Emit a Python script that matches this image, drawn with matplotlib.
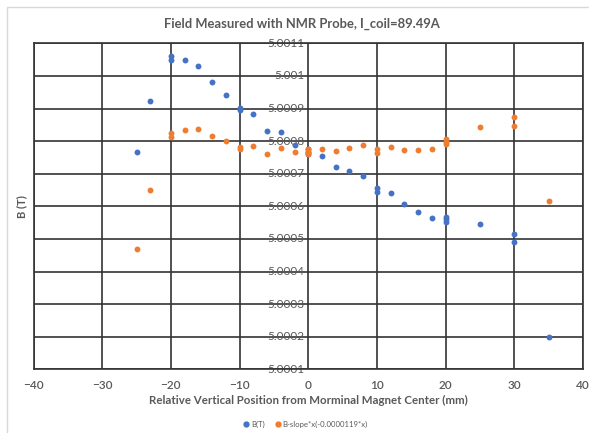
import matplotlib
matplotlib.use("Agg")
import matplotlib.pyplot as plt
from matplotlib.patches import Rectangle
from matplotlib.lines import Line2D
from matplotlib import transforms

# position (mm) and measured field B (T)
pos_b = [-25, -23, -20, -20, -18, -16, -14, -12, -10, -10, -8, -6, -4, -2,
         0, 0, 0, 2, 4, 6, 8, 10, 10, 12, 14, 16, 18, 20, 20, 20, 25, 30, 30, 35]
b_meas = [5.000768, 5.000924, 5.001061, 5.001049, 5.001049, 5.001029, 5.000982,
          5.000942, 5.000902, 5.000896, 5.000882, 5.000832, 5.000827, 5.000788,
          5.000775, 5.000768, 5.000760, 5.000754, 5.000721, 5.000708, 5.000693,
          5.000657, 5.000645, 5.000640, 5.000607, 5.000583, 5.000563, 5.000568,
          5.000561, 5.000553, 5.000546, 5.000515, 5.000490, 5.000199]

# B - slope*x
pos_c = [-25, -23, -20, -20, -18, -16, -14, -12, -10, -10, -8, -6, -4, -2,
         0, 0, 0, 2, 4, 6, 8, 10, 10, 12, 14, 16, 18, 20, 20, 20, 25, 30, 30, 35]
b_corr = [5.000469, 5.000649, 5.000824, 5.000812, 5.000834, 5.000838, 5.000816,
          5.000799, 5.000783, 5.000777, 5.000786, 5.000760, 5.000778, 5.000766,
          5.000775, 5.000768, 5.000760, 5.000777, 5.000770, 5.000780, 5.000789,
          5.000777, 5.000763, 5.000782, 5.000773, 5.000773, 5.000777, 5.000805,
          5.000798, 5.000791, 5.000843, 5.000873, 5.000846, 5.000616]

x_ticks = [-40, -30, -20, -10, 0, 10, 20, 30, 40]
y_ticks = [5.0001, 5.0002, 5.0003, 5.0004, 5.0005, 5.0006, 5.0007, 5.0008,
           5.0009, 5.001, 5.0011]
y_labels = ["5.0001", "5.0002", "5.0003", "5.0004", "5.0005", "5.0006",
            "5.0007", "5.0008", "5.0009", "5.001", "5.0011"]

blue = "#4472C4"
orange = "#ED7D31"
txt = "#595959"
grid_c = "#333333"

plt.rcParams['font.family'] = ['Lato', 'DejaVu Sans']

fig = plt.figure(figsize=(5.89, 4.33), dpi=100)
# light chart border (Excel chart area)
fig.patches.append(Rectangle((7 / 589, -0.1), 1.2, 1 - 7 / 433 + 0.1,
                             transform=fig.transFigure, fill=False,
                             edgecolor="#d9d9d9", lw=1))

ax = fig.add_axes([33.5 / 589, 1 - 369.3 / 433, (583 - 33.5) / 589, (369.3 - 43.3) / 433])
ax.scatter(pos_b, b_meas, s=18, color=blue, zorder=3, linewidths=0)
ax.scatter(pos_c, b_corr, s=18, color=orange, zorder=4, linewidths=0)

ax.set_xlim(-40, 40)
ax.set_ylim(5.0001, 5.0011)
ax.set_xticks(x_ticks)
ax.set_yticks(y_ticks)
ax.set_yticklabels([])
ax.tick_params(axis='both', length=0, colors=txt, labelsize=8.5)
ax.tick_params(axis='x', pad=8)
for lab in ax.get_xticklabels():
    lab.set_fontweight('semibold')
ax.grid(True, color=grid_c, lw=1.2)
ax.set_axisbelow(True)
for sp in ax.spines.values():
    sp.set_color(grid_c)
    sp.set_linewidth(1.2)

# y labels sit at x = 0 (Excel axis crossing)
off = transforms.offset_copy(ax.transData, fig=fig, x=-4, y=0, units='dots')
for yv, lab in zip(y_ticks, y_labels):
    ax.text(0, yv, lab, transform=off, ha='right', va='center',
            fontsize=8.5, color=txt, zorder=2)

fig.text(302 / 589, 1 - 24 / 433, "Field Measured with NMR Probe, I_coil=89.49A",
         ha='center', va='center', fontsize=9.4, fontweight='bold', color=txt)
fig.text(22 / 589, 1 - 207 / 433, "B (T)", rotation=90, ha='center', va='center',
         fontsize=8, fontweight='bold', color=txt)
fig.text(308 / 589, 1 - 400 / 433,
         "Relative Vertical Position from Morminal Magnet Center (mm)",
         ha='center', va='center', fontsize=8.3, fontweight='bold', color=txt)

handles = [Line2D([], [], ls='none', marker='o', ms=3.5, color=blue, mec=blue),
           Line2D([], [], ls='none', marker='o', ms=3.5, color=orange, mec=orange)]
fig.legend(handles, ["B(T)", "B-slope*x(-0.0000119*x)"], loc='center',
           bbox_to_anchor=(305 / 589, 1 - 424 / 433), ncol=2, frameon=False,
           fontsize=5.6, labelcolor=txt, handletextpad=0.1, columnspacing=1.2,
           handlelength=1)

fig.savefig("out.png", dpi=100)
